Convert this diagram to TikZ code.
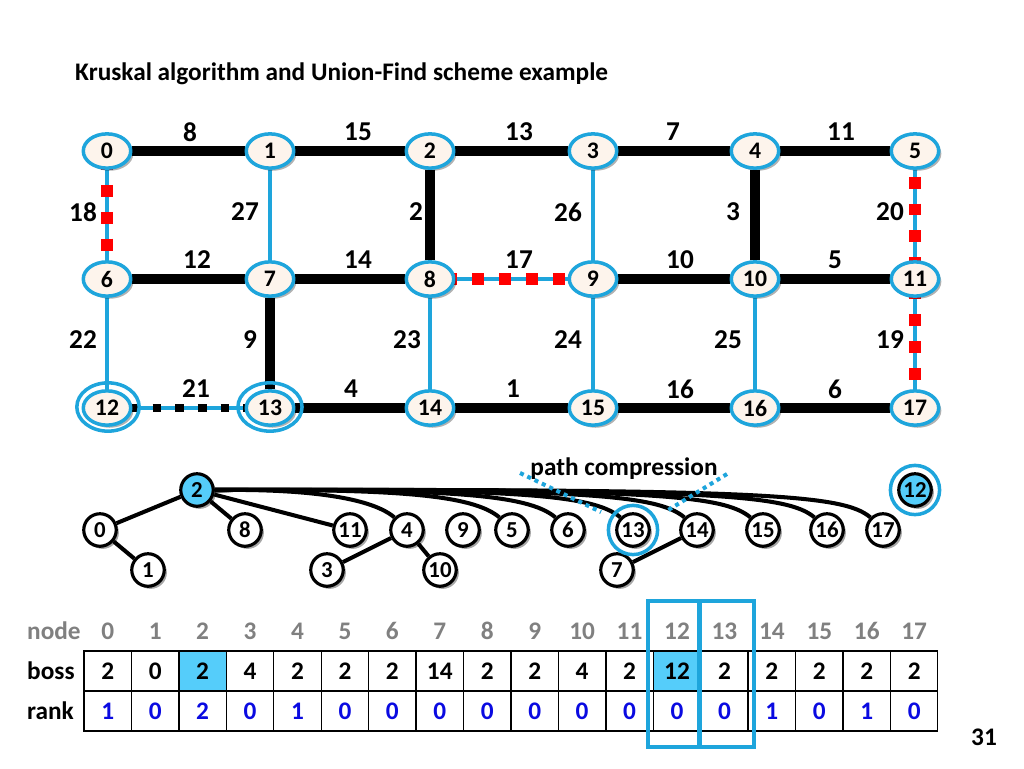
\documentclass[tikz,border=0pt]{standalone}
\usepackage{fontspec}
\setmainfont{Carlito}
\usetikzlibrary{shapes.geometric,shadows,calc}
\pgfdeclarelayer{bg}
\pgfsetlayers{bg,main}
\definecolor{cblue}{RGB}{30,165,220}
\definecolor{hblue}{RGB}{85,205,250}
\definecolor{cream}{RGB}{253,244,236}
\definecolor{rblue}{RGB}{10,10,225}
\definecolor{gtext}{RGB}{128,128,128}
\definecolor{sqred}{RGB}{255,0,0}
\begin{document}
\begin{tikzpicture}[x=0.02cm,y=-0.02cm,
  gnode/.style={ellipse, draw=cblue, line width=2pt, fill=cream, minimum width=27pt, minimum height=19.5pt, inner sep=0pt,
    font=\fontsize{13.5}{13.5}\selectfont\bfseries, drop shadow={shadow xshift=1.5pt, shadow yshift=-1.5pt, opacity=0.3, fill=black}},
  mst/.style={line width=5.7pt, draw=black},
  unused/.style={draw=cblue, line width=2pt},
  rejsq/.style={draw=sqred, line width=6.8pt, dash pattern=on 6.8pt off 8.5pt},
  cursq/.style={draw=black, line width=5.1pt, dash pattern=on 5.1pt off 7.8pt},
  wlabel/.style={font=\fontsize{15.5}{15.5}\selectfont\bfseries},
  tnode/.style={circle, draw=black, line width=1.8pt, fill=white, minimum size=18.5pt, inner sep=0pt,
    font=\fontsize{13}{13}\selectfont\bfseries, drop shadow={shadow xshift=1.5pt, shadow yshift=-1.5pt, opacity=0.35, fill=black}},
  tedge/.style={draw=black, line width=2.3pt},
  ring/.style={draw=cblue, line width=2pt},
  pcline/.style={draw=cblue, line width=2.3pt, dash pattern=on 2.3pt off 2.3pt},
  cell/.style={draw=black, line width=0.7pt, minimum width=26.9pt, minimum height=22.7pt, inner sep=0pt, font=\fontsize{14.4}{14.4}\selectfont\bfseries},
  hdr/.style={font=\fontsize{14.4}{14.4}\selectfont\bfseries, text=gtext},
  rowlab/.style={font=\fontsize{14.4}{14.4}\selectfont\bfseries, anchor=west},
  hbox/.style={draw=cblue, line width=1.8pt}
]
\useasboundingbox (0,0) rectangle (1024,768);

% title
\node[anchor=west, font=\fontsize{14.4}{14.4}\selectfont\bfseries] (title) at (69,74) {Kruskal algorithm and Union-Find scheme example};

% graph nodes
\foreach \i/\x/\y in {0/107/151,1/270/151,2/430/151,3/593/151,4/755/151,5/915/151,
                      6/107/279,7/270/279,8/430/279,9/593/279,10/755/279,11/915/279,
                      12/107/408,13/270/408,14/430/408,15/593/408,16/755/408,17/915/408}
  \node[gnode] (g\i) at (\x,\y) {\i};

% outer rings on 12 and 13
\node[ring, ellipse, minimum width=35.5pt, minimum height=27.5pt] (o12) at (108,407) {};
\node[ring, ellipse, minimum width=36.5pt, minimum height=27.5pt] (o13) at (270,407) {};

\begin{pgfonlayer}{bg}
  % MST edges
  \foreach \a/\b in {0/1,1/2,2/3,3/4,4/5,2/8,4/10,6/7,7/8,9/10,10/11,7/13,13/14,14/15,15/16,16/17}
    \draw[mst] (g\a) -- (g\b);
  % unused edges
  \foreach \a/\b in {1/7,3/9,6/12,8/14,9/15,10/16,0/6,8/9,5/11,11/17,12/13}
    \draw[unused] (g\a) -- (g\b);
  % rejected edges (red squares)
  \draw[rejsq, dash phase=-19.3pt] (g0.center) -- (g6.center);
  \draw[rejsq, dash phase=-24pt] (g8.center) -- (g9.center);
  \draw[rejsq, dash phase=-14.6pt] (g5.center) -- (g11.center);
  \draw[rejsq, dash phase=-20pt] (g11.center) -- (g17.center);
  % current edge (black squares)
  \draw[cursq, dash phase=-13pt] (g12.center) -- (g13.center);
\end{pgfonlayer}

% weights
\foreach \w/\x/\y in {8/190/132,15/358/132,13/519/132,7/673/132,11/841/132,
                      18/83/212,27/245/212,2/416/212,26/568/212,3/733/212,20/890/212,
                      12/197/260,14/358/260,17/519/260,10/680/260,5/835/260,
                      22/83/340,9/250/340,23/407/340,24/568/340,25/728/340,19/890/340,
                      21/196/389,4/351/389,1/513/389,16/680/389,6/835/389}
  \node[wlabel] (w\w) at (\x,\y) {\w};

% union-find forest
\node[tnode, fill=hblue] (t2) at (197,490) {2};
\foreach \i/\x/\y in {0/100/530,8/245/530,11/350/530,4/407/530,9/463/530,5/512/530,6/568/530,
                      13/633/530,14/697/530,15/763/530,16/827/530,17/883/530,
                      1/148/570,3/327/570,10/440/570,7/617/570}
  \node[tnode] (t\i) at (\x,\y) {\i};
\node[tnode, fill=hblue] (t12) at (915,490) {12};
\node[ring, circle, minimum size=28pt] (r12) at (915,490) {};
\node[ring, circle, minimum size=28pt] (r13) at (633,530) {};

\begin{pgfonlayer}{bg}
  \foreach \a/\b in {2/0,0/1,2/8,2/11,4/3,4/10,14/7}
    \draw[tedge] (t\a) -- (t\b);
  \foreach \t in {4,5,6,13,14,15,16,17}
    \draw[tedge] (t2.east) .. controls ($(t\t)+(-120,-41)$) and ($(t\t)+(-40,-36)$) .. (t\t.north west);
\end{pgfonlayer}

% path compression
\node[font=\fontsize{14.4}{14.4}\selectfont\bfseries] (pc) at (624,469) {path compression};
\coordinate (pa1) at (520,473);
\coordinate (pa2) at (601,512);
\coordinate (pb1) at (727,474);
\coordinate (pb2) at (665,512);
\draw[pcline] (pa1) -- (pa2);
\draw[pcline] (pb1) -- (pb2);

% table
\node[hdr, anchor=west] (nodelab) at (21,631) {node};
\node[rowlab] (bosslab) at (21,671) {boss};
\node[rowlab] (ranklab) at (21,711) {rank};
\foreach \i/\b/\r in {0/2/1,1/0/0,2/2/2,3/4/0,4/2/1,5/2/0,6/2/0,7/14/0,8/2/0,9/2/0,
                      10/4/0,11/2/0,12/12/0,13/2/0,14/2/1,15/2/0,16/2/1,17/2/0}{
  \pgfmathsetmacro{\cx}{84+47.44*(\i+0.5)}
  \node[hdr] (h\i) at (\cx,631) {\i};
  \node[cell] (b\i) at (\cx,671) {\b};
  \node[cell, text=rblue] (k\i) at (\cx,711) {\r};
}
\node[cell, fill=hblue] at (b2) {2};
\node[cell, fill=hblue] at (b12) {12};
\draw[hbox] (648,601) rectangle (700,747);
\draw[hbox] (699,601) rectangle (754,747);

\node[font=\fontsize{14.4}{14.4}\selectfont\bfseries] (pg) at (984,737) {31};
\end{tikzpicture}
\end{document}
